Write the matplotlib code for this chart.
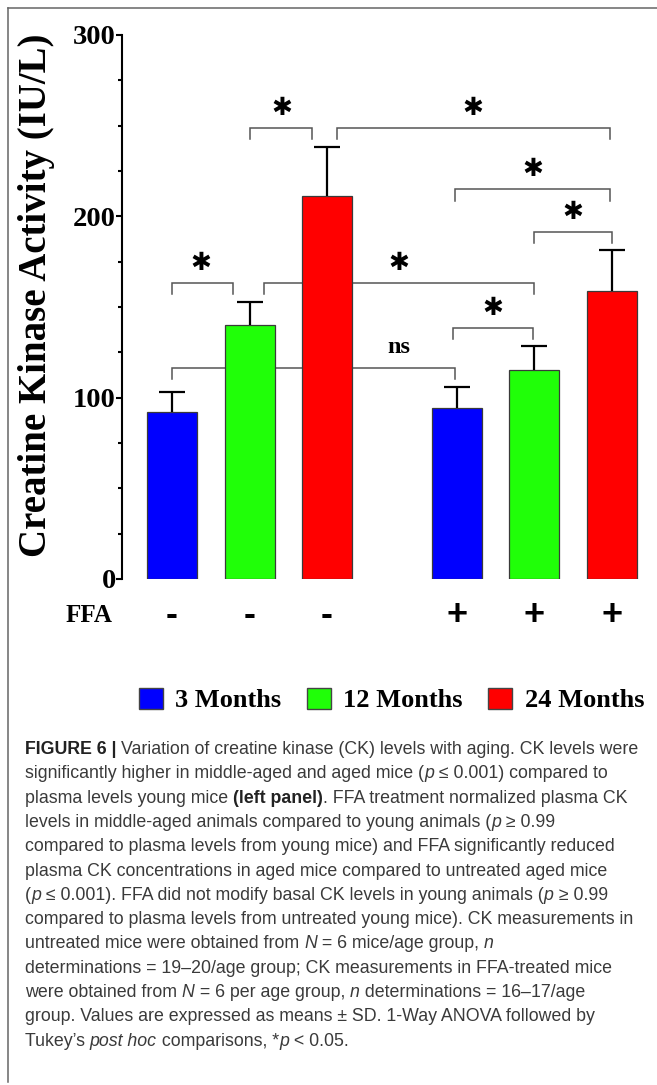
import matplotlib
matplotlib.use("Agg")
import matplotlib.pyplot as plt
from matplotlib.patches import Patch
from matplotlib.ticker import MultipleLocator, FixedLocator
from matplotlib.transforms import IdentityTransform

# ---------------- data ----------------
age_groups = ["3 Months", "12 Months", "24 Months"]
ffa_treated = ["-", "-", "-", "+", "+", "+"]
ck_mean = [92, 140, 211, 94.5, 115, 159]      # CK activity (IU/L)
ck_sd = [11, 13, 27, 11.5, 13.5, 22.5]
group_colors = ["#0000ff", "#20ff08", "#ff0000"]

# pairwise comparisons: label for each bracket
comparison_labels = ["*", "*", "*", "*", "*", "*", "*", "ns"]

# ---------------- layout ----------------
W, H, DPI = 657, 1085, 100
fig = plt.figure(figsize=(W / DPI, H / DPI), dpi=DPI)
plt.rcParams["font.family"] = ["Liberation Serif", "DejaVu Serif"]

px_l, px_r, px_top, px_bot = 122, 645, 35, 579
ax = fig.add_axes([px_l / W, 1 - px_bot / H, (px_r - px_l) / W, (px_bot - px_top) / H])

xpos = [0, 1, 2, 3.67, 4.67, 5.67]
bar_w = 0.645
colors = group_colors * 2

ax.bar(xpos, ck_mean, width=bar_w, color=colors, edgecolor="#3a3a3a",
       linewidth=0.9, zorder=3)
# upper error bars only
cap_w = 0.335
tops = [m + s for m, s in zip(ck_mean, ck_sd)]
ax.vlines(xpos, ck_mean, tops, color="black", linewidth=1.6, zorder=4)
ax.hlines(tops, [x - cap_w / 2 for x in xpos], [x + cap_w / 2 for x in xpos],
          color="black", linewidth=1.6, zorder=4)

# significance brackets: (x left, x right, height, label x)
brackets = [
    (0.00, 0.79, 163.2, 0.37),
    (1.19, 4.67, 163.2, 2.92),
    (1.00, 1.81, 248.7, 1.42),
    (2.13, 5.65, 248.7, 3.88),
    (3.65, 5.65, 215.0, 4.65),
    (4.67, 5.68, 191.4, 5.17),
    (3.63, 4.66, 138.4, 4.14),
    (0.00, 3.65, 116.5, 2.92),
]
drop = 6.3
for (x1, x2, yb, lx), lab in zip(brackets, comparison_labels):
    ax.plot([x1, x1, x2, x2], [yb - drop, yb, yb, yb - drop], color="#555555",
            linewidth=1.1, zorder=2, solid_joinstyle="miter")
    if lab == "ns":
        ax.text(lx, yb + 11, lab, ha="center", va="center", fontsize=17.5,
                fontweight="bold", zorder=5)
    else:
        ax.text(lx, yb + 11, "\u2731", ha="center", va="center", fontsize=18,
                family="DejaVu Sans", fontweight="bold", zorder=5)

ax.set_xlim(-0.645, 6.1)
ax.set_ylim(0, 300)
for sp in ["top", "right", "bottom"]:
    ax.spines[sp].set_visible(False)
ax.spines["left"].set_linewidth(1.5)
ax.set_xticks([])
ax.yaxis.set_major_locator(FixedLocator([0, 100, 200, 300]))
ax.yaxis.set_minor_locator(MultipleLocator(25))
ax.tick_params(axis="y", which="major", length=4, width=1.5, pad=0.5,
               labelsize=20.5)
ax.tick_params(axis="y", which="minor", length=3, width=1.5)
for lbl in ax.get_yticklabels():
    lbl.set_fontweight("bold")

fig.text(37 / W, 1 - 295 / H, "Creatine Kinase Activity (IU/L)", rotation=90,
         ha="center", va="center", fontsize=28, fontweight="bold")

# FFA treatment row
ffa_y = 1 - 615 / H
fig.text(89 / W, ffa_y, "FFA", ha="center", va="center", fontsize=18,
         fontweight="bold")
for x, s in zip(xpos, ffa_treated):
    xd = ax.transData.transform((x, 0))[0]
    fig.text(xd / W, ffa_y, s, ha="center", va="center", fontsize=26,
             family="Liberation Sans", fontweight="bold")

# legend
handles = [Patch(facecolor=c, edgecolor="#444444", linewidth=1.0) for c in group_colors]
fig.legend(handles, age_groups, ncol=3, loc="center",
           bbox_to_anchor=(391.5 / W, 1 - 700 / H), frameon=False,
           prop={"family": "Liberation Serif", "weight": "bold", "size": 19},
           handlelength=0.91, handleheight=0.87, handletextpad=0.47,
           columnspacing=0.97, borderpad=0, borderaxespad=0)

# ---------------- caption ----------------
fig.add_artist(plt.Line2D([8, W], [H - 8, H - 8], transform=IdentityTransform(),
                          color="#666666", linewidth=1.1))
fig.add_artist(plt.Line2D([8, 8], [H - 8, H - 1082], transform=IdentityTransform(),
                          color="#666666", linewidth=1.1))

R, B, I = "r", "b", "i"
caption = [
    [("FIGURE 6 | ", B), ("Variation of creatine kinase (CK) levels with aging. CK levels were", R)],
    [("significantly higher in middle-aged and aged mice (", R), ("p", I), (" \u2264 0.001) compared to", R)],
    [("plasma levels young mice ", R), ("(left panel)", B), (". FFA treatment normalized plasma CK", R)],
    [("levels in middle-aged animals compared to young animals (", R), ("p", I), (" \u2265 0.99", R)],
    [("compared to plasma levels from young mice) and FFA significantly reduced", R)],
    [("plasma CK concentrations in aged mice compared to untreated aged mice", R)],
    [("(", R), ("p", I), (" \u2264 0.001). FFA did not modify basal CK levels in young animals (", R), ("p", I), (" \u2265 0.99", R)],
    [("compared to plasma levels from untreated young mice). CK measurements in", R)],
    [("untreated mice were obtained from ", R), ("N", I), (" = 6 mice/age group, ", R), ("n", I)],
    [("determinations = 19\u201320/age group; CK measurements in FFA-treated mice", R)],
    [("were obtained from ", R), ("N", I), (" = 6 per age group, ", R), ("n", I), (" determinations = 16\u201317/age", R)],
    [("group. Values are expressed as means \u00b1 SD. 1-Way ANOVA followed by", R)],
    [("Tukey\u2019s ", R), ("post hoc", I), (" comparisons, *", R), ("p", I), (" < 0.05.", R)],
]
cap_size = 12.8
styles = {
    R: dict(family="Liberation Sans", fontsize=cap_size, color="#3a3a3a"),
    B: dict(family="Liberation Sans", fontsize=cap_size, color="#222222", fontweight="bold"),
    I: dict(family="Liberation Sans", fontsize=cap_size, color="#3a3a3a", style="italic"),
}

renderer = fig.canvas.get_renderer()


def run_width(s, kw):
    t1 = fig.text(0, 0, "|" + s + "|", transform=IdentityTransform(), **kw)
    t2 = fig.text(0, 0, "||", transform=IdentityTransform(), **kw)
    w = t1.get_window_extent(renderer).width - t2.get_window_extent(renderer).width
    t1.remove()
    t2.remove()
    return w


x0, base0, step = 25, 754, 24.3
for i, line in enumerate(caption):
    x = x0
    y = H - (base0 + i * step)
    for s, st in line:
        fig.text(x, y, s, transform=IdentityTransform(), va="baseline", ha="left",
                 **styles[st])
        x += run_width(s, styles[st])

fig.savefig("out.png", dpi=DPI)
